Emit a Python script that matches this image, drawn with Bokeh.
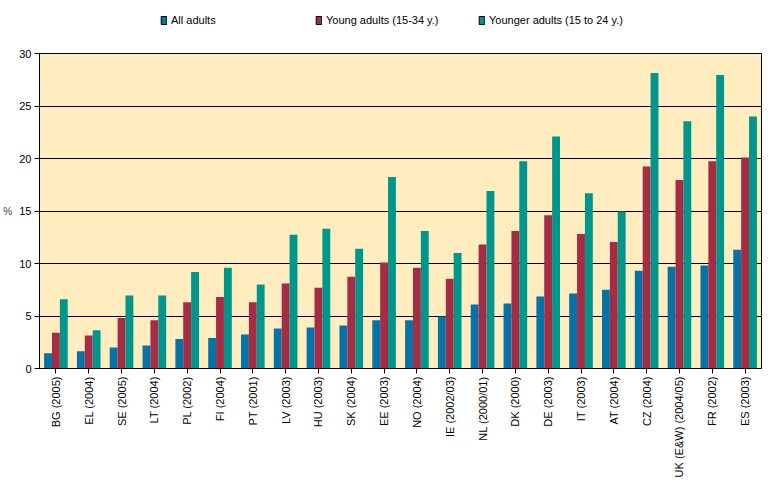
import math
from bokeh.plotting import figure
from bokeh.layouts import column
from bokeh.models import ColumnDataSource, FactorRange, Legend, LegendItem, FixedTicker
from bokeh.transform import dodge
from bokeh.embed import file_html
from bokeh.resources import INLINE

countries = ["BG (2005)", "EL (2004)", "SE (2005)", "LT (2004)", "PL (2002)", "FI (2004)",
             "PT (2001)", "LV (2003)", "HU (2003)", "SK (2004)", "EE (2003)", "NO (2004)",
             "IE (2002/03)", "NL (2000/01)", "DK (2000)", "DE (2003)", "IT (2003)", "AT (2004)",
             "CZ (2004)", "UK (E&W) (2004/05)", "FR (2002)", "ES (2003)"]
all_adults = [1.45, 1.65, 2.0, 2.2, 2.8, 2.9, 3.25, 3.8, 3.9, 4.1, 4.6, 4.6,
              4.95, 6.1, 6.2, 6.85, 7.15, 7.5, 9.3, 9.7, 9.8, 11.3]
young_adults = [3.4, 3.15, 4.8, 4.6, 6.3, 6.8, 6.3, 8.1, 7.7, 8.75, 10.1, 9.6,
                8.55, 11.8, 13.1, 14.6, 12.8, 12.05, 19.25, 17.95, 19.75, 20.1]
younger_adults = [6.6, 3.65, 6.95, 6.95, 9.2, 9.6, 8.0, 12.75, 13.3, 11.4, 18.25, 13.1,
                  11.0, 16.9, 19.75, 22.1, 16.7, 14.95, 28.15, 23.55, 27.95, 24.0]
series_names = ["All adults", "Young adults (15-34 y.)", "Younger adults (15 to 24 y.)"]
colors = ["#0673A8", "#A62B45", "#00968C"]
y_ticks = [0, 5, 10, 15, 20, 25, 30]

src = ColumnDataSource(dict(c=countries, a=all_adults, y=young_adults, z=younger_adults))

left_border = 39

# ---- legend strip (its frame is aligned with the chart's frame by the column layout) ----
leg_h = 45
pl = figure(width=768, height=leg_h, x_range=(0, 1), y_range=(0, 1),
            output_backend="svg", toolbar_location=None,
            min_border_left=0, min_border_right=0, min_border_top=0, min_border_bottom=0)
pl.axis.visible = False
pl.grid.visible = False
pl.outline_line_color = None
pl.background_fill_color = "white"
legend_x = [160, 315, 478]
for n, col, lx in zip(series_names, colors, legend_x):
    # proxy bar placed far outside the strip's ranges; it only provides the legend swatch
    dr = pl.vbar(x=[-50], top=[-40], bottom=[-50], width=0.1,
                 fill_color=col, line_color="black", line_width=1)
    lg = Legend(items=[LegendItem(label=n, renderers=[dr])], location=(lx - left_border, 19),
                label_text_font="Liberation Sans", label_text_font_size="11px",
                label_text_color="black",
                glyph_width=7, glyph_height=10, label_height=12,
                label_standoff=4, border_line_color=None, background_fill_alpha=0,
                padding=0, margin=0)
    pl.add_layout(lg)

# ---- main chart ----
p = figure(width=768, height=480 - leg_h, x_range=FactorRange(*countries, range_padding=0),
           y_range=(0, 30), output_backend="svg", toolbar_location=None,
           min_border_left=left_border, min_border_right=7, min_border_top=8, min_border_bottom=111)

bw = 0.24
for key, off, col in zip(["a", "y", "z"], [-bw, 0, bw], colors):
    p.vbar(x=dodge("c", off, range=p.x_range), top=key, width=bw, source=src,
           fill_color=col, line_color=None)

p.background_fill_color = "#FFEDC0"
p.border_fill_color = "white"
p.outline_line_color = "black"
p.outline_line_width = 1

p.xgrid.grid_line_color = None
p.ygrid.grid_line_color = "black"
p.ygrid.grid_line_width = 1
p.yaxis.ticker = FixedTicker(ticks=y_ticks)
p.yaxis.minor_tick_line_color = None
p.yaxis.major_tick_out = 5
p.yaxis.major_tick_in = 0
p.yaxis.axis_label = "%"
p.yaxis.axis_label_orientation = "horizontal"
p.yaxis.axis_label_standoff = 4
p.yaxis.axis_label_text_font_style = "normal"
p.yaxis.axis_label_text_font_size = "10px"
p.yaxis.axis_label_text_font = "Liberation Sans"

for ax in [p.xaxis[0], p.yaxis[0]]:
    ax.major_label_text_font = "Liberation Sans"
    ax.major_label_text_font_size = "11px"
    ax.major_label_text_color = "black"
    ax.axis_line_color = "black"
    ax.major_tick_line_color = "black"

p.xaxis.major_label_orientation = math.pi / 2
p.xaxis.major_tick_out = 5
p.xaxis.major_tick_in = 0
p.xaxis.major_label_standoff = 3
p.yaxis.major_label_standoff = 3

layout = column(pl, p, spacing=0)
open("out.html", "w").write(file_html(layout, INLINE))
